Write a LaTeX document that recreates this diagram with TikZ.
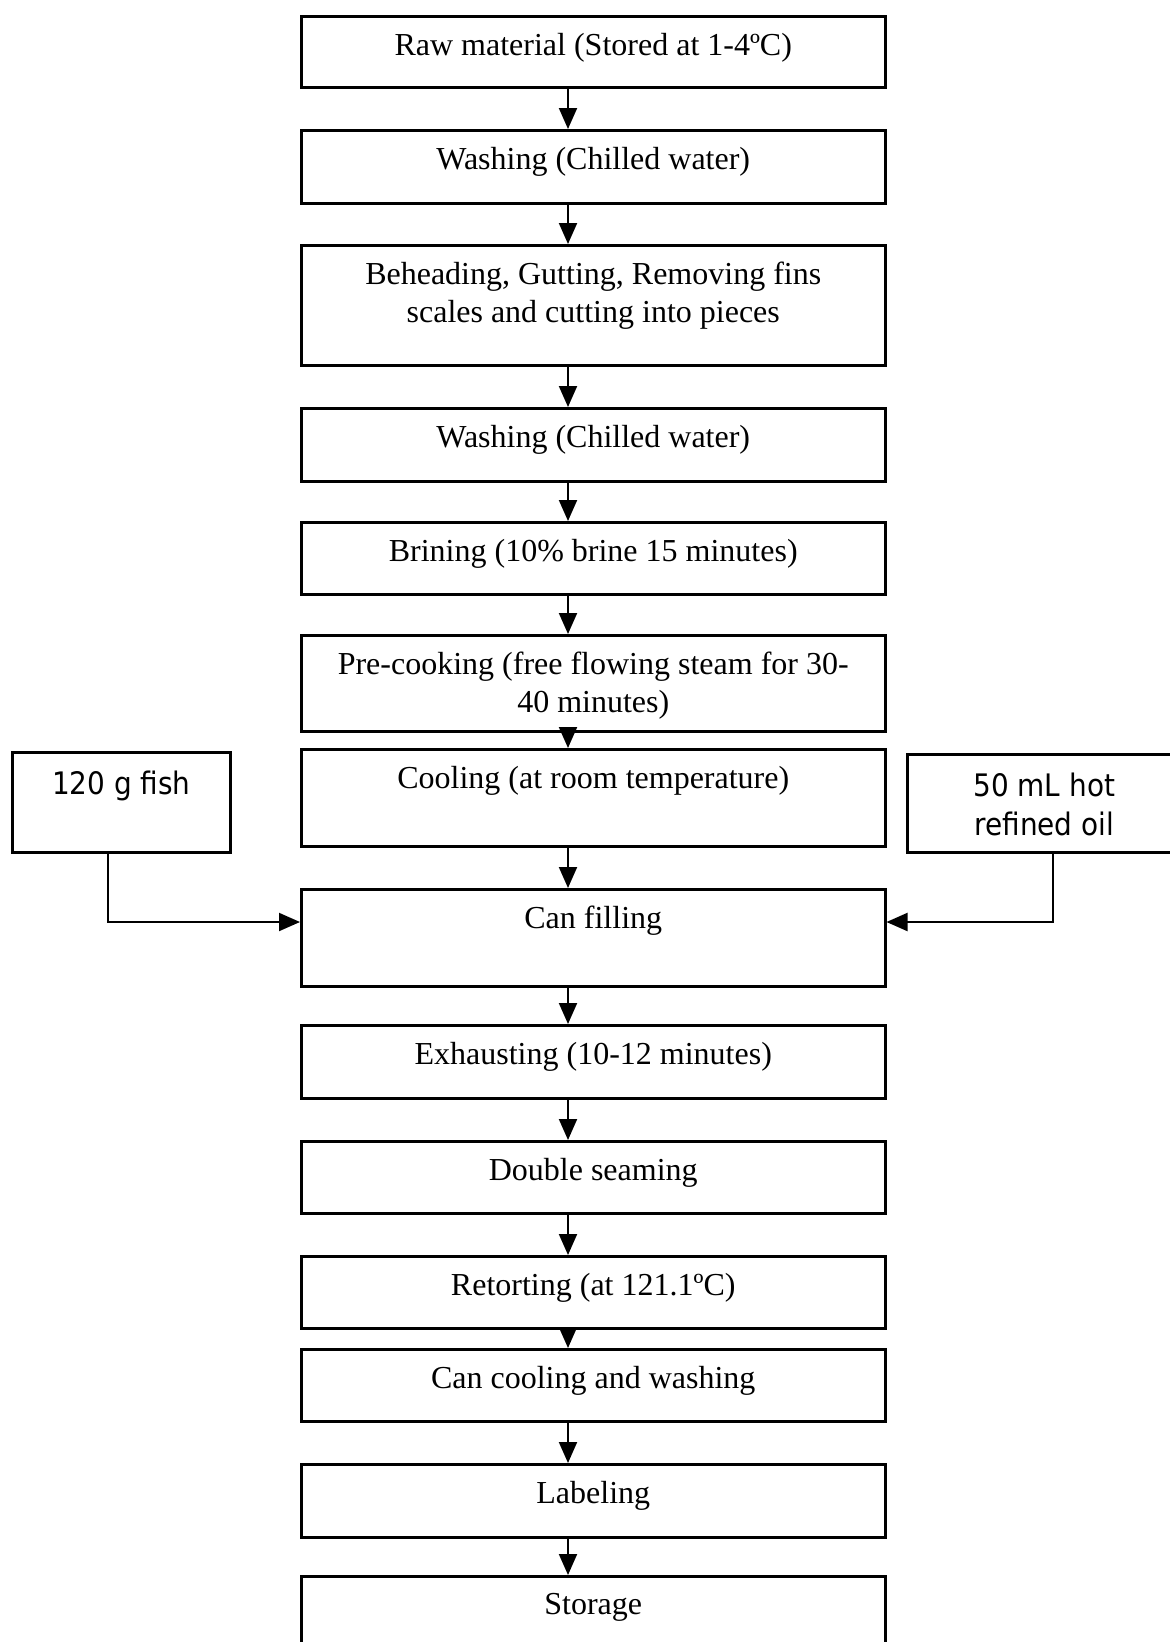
\documentclass[tikz,border=0pt]{standalone}
\usepackage{fontspec}
\setmainfont{Liberation Serif}
\newfontfamily\sidefont{DejaVu Sans Condensed}
\usetikzlibrary{positioning,arrows.meta}

\begin{document}
\begin{tikzpicture}[x=1pt,y=1pt,
  stepbox/.style={draw,line width=2.5pt,minimum width=584pt,anchor=north west,inner sep=0pt},
  sidebox/.style={draw,line width=2.5pt,anchor=north west,inner sep=0pt},
  steptext/.style={font=\fontsize{32}{38}\selectfont,align=center,inner sep=0pt},
  sidetext/.style={font=\sidefont\fontsize{31}{39}\selectfont,align=center,inner sep=0pt},
  flow/.style={line width=2pt,-{Triangle[length=21pt,width=18pt]}}]
\useasboundingbox (0,0) rectangle (1170,-1642);

% process steps
\foreach \name/\top/\h/\txt in {
  raw/15/71/{Raw material (Stored at 1-4ºC)},
  washa/129/73/{Washing (Chilled water)},
  behead/244/120/{Beheading, Gutting, Removing fins\\scales and cutting into pieces},
  washb/407/73/{Washing (Chilled water)},
  brine/521/72/{Brining (10\% brine 15 minutes)},
  precook/634/96/{Pre-cooking (free flowing steam for 30-\\40 minutes)},
  cool/748/97/{Cooling (at room temperature)},
  fill/888/97/{Can filling},
  exhaust/1024/73/{Exhausting (10-12 minutes)},
  seam/1140/72/{Double seaming},
  retort/1255/72/{Retorting (at 121.1ºC)},
  cancool/1348/72/{Can cooling and washing},
  labeling/1463/73/{Labeling},
  store/1575/100/{Storage}}{
  \node[stepbox,minimum height=\h pt] (\name) at (300,-\top) {};
  \node[steptext,below=18pt of \name.north] (\name-t) {\txt};
}

% added ingredients
\node[sidebox,minimum width=218pt,minimum height=100pt] (fish) at (11,-751) {};
\node[sidetext,below=20pt of fish.north] (fish-t) {120 g fish};
\node[sidebox,minimum width=274pt,minimum height=98pt] (oil) at (906,-753) {};
\node[sidetext,below=20pt of oil.north] (oil-t) {50 mL hot\\refined oil};

% arrows down the main line
\coordinate (axis) at (568,0);
\foreach \a/\b in {raw/washa, washa/behead, behead/washb, washb/brine, brine/precook,
  precook/cool, cool/fill, fill/exhaust, exhaust/seam, seam/retort, retort/cancool,
  cancool/labeling, labeling/store}
  \draw[flow] (\a.south -| axis) -- (\b.north -| axis);

% side inputs into can filling
\coordinate (fishx) at (108,-922);
\coordinate (oilx) at (1053,-922);
\draw[flow] (fish.south -| fishx) |- (fill.west |- fishx);
\draw[flow] (oil.south -| oilx) |- (fill.east |- oilx);
\end{tikzpicture}
\end{document}
